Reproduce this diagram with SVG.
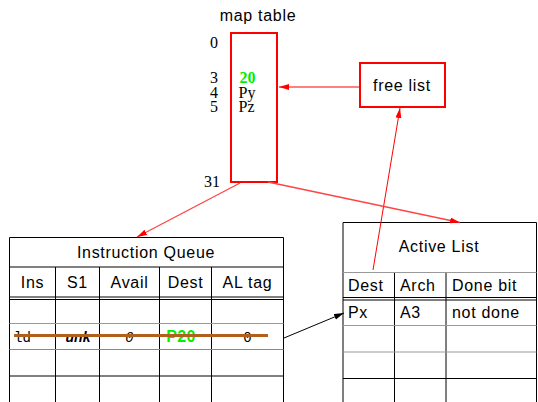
<svg xmlns="http://www.w3.org/2000/svg" width="538" height="402" viewBox="0 0 538 402">
<style>
  .sans { font-family: "Liberation Sans", Arial, sans-serif; font-size: 16px; letter-spacing: 0.7px; fill: #000; }
  .serif { font-family: "Liberation Serif", "Times New Roman", serif; font-size: 16px; fill: #000; }
  .mono { font-family: "Liberation Mono", "Courier New", monospace; font-size: 14px; fill: #000; }
  .redbox { fill: #fff; stroke: #ff0000; stroke-width: 2; }
  .grid { stroke: #000; stroke-width: 1; fill: none; }
  .gray { stroke: #999; stroke-width: 1.2; fill: none; }
  .red { stroke: #ff0000; stroke-width: 1; fill: none; }
  .redsoft { stroke: #ff4444; stroke-width: 1.3; fill: none; }
  .blk { stroke: #000; stroke-width: 1; fill: none; }
</style>
<defs>
  <marker id="ah-red" markerUnits="userSpaceOnUse" markerWidth="11" markerHeight="8" refX="10" refY="3" orient="auto">
    <path d="M0,0 L10,3 L0,6 z" fill="#ff0000"/>
  </marker>
  <marker id="ah-blk" markerUnits="userSpaceOnUse" markerWidth="11" markerHeight="8" refX="10" refY="3" orient="auto">
    <path d="M0,0 L10,3 L0,6 z" fill="#000"/>
  </marker>
</defs>
<rect width="538" height="402" fill="#fff"/>

<g id="map-table">
  <text class="sans" x="258" y="21" text-anchor="middle">map table</text>
  <rect class="redbox" x="231" y="33" width="46" height="149"/>
  <g class="serif" text-anchor="end">
    <text x="218" y="48">0</text>
    <text x="218" y="82.5">3</text>
    <text x="218" y="97.5">4</text>
    <text x="218" y="112">5</text>
    <text x="220" y="187">31</text>
  </g>
  <text class="serif" x="239.5" y="82.5" font-weight="bold" fill="#00ee00" style="fill:#00ee00">20</text>
  <text class="serif" x="238.5" y="97.5">Py</text>
  <text class="serif" x="238.5" y="112">Pz</text>
</g>

<g id="free-list">
  <rect class="redbox" x="360" y="63" width="85" height="44"/>
  <text class="sans" x="402" y="91" text-anchor="middle">free list</text>
</g>

<g id="instruction-queue">
  <path class="grid" d="M9.5,402 V237.5 H283.5 V402 M9.5,267 H283.5 M55.5,267 V402 M99.5,267 V402 M159.5,267 V402 M211.5,267 V402 M9.5,297 H283.5 M9.5,299.5 H283.5 M9.5,376 H283.5"/>
  <path class="gray" d="M9.5,323.5 H283.5"/>
  <path class="gray" d="M9.5,349.5 H283.5" style="stroke:#888"/>
  <text class="sans" x="146" y="257.5" text-anchor="middle">Instruction Queue</text>
  <g class="sans" text-anchor="middle">
    <text x="32.5" y="287.5">Ins</text>
    <text x="77.5" y="287.5">S1</text>
    <text x="129.5" y="287.5">Avail</text>
    <text x="185.5" y="287.5">Dest</text>
    <text x="247.5" y="287.5">AL tag</text>
  </g>
  <text class="mono" x="14" y="341.5">ld</text>
  <text class="sans" x="78" y="341.5" text-anchor="middle" font-style="italic" font-weight="bold" style="font-size:14px;letter-spacing:0">unk</text>
  <text class="mono" x="129.5" y="341.5" text-anchor="middle" font-style="italic">0</text>
  <text class="sans" x="181" y="342" text-anchor="middle" font-weight="bold" style="fill:#00ee00;letter-spacing:0.3px">P20</text>
  <text class="mono" x="247.5" y="341.5" text-anchor="middle">0</text>
  <line x1="14" y1="335.5" x2="268" y2="335.5" stroke="#b0601a" stroke-width="3"/>
</g>

<g id="active-list">
  <path class="grid" d="M343,402 V222.5 H536.5 V402 M394.5,272.5 V402 M446,272.5 V402 M343,297.5 H536.5 M343,300 H536.5 M343,378.5 H536.5"/>
  <path class="gray" d="M343,272.5 H536.5 M343,325.5 H536.5 M343,352 H536.5"/>
  <text class="sans" x="439" y="252" text-anchor="middle">Active List</text>
  <g class="sans">
    <text x="348" y="291">Dest</text>
    <text x="400" y="291">Arch</text>
    <text x="452" y="291">Done bit</text>
    <text x="348" y="317.5">Px</text>
    <text x="400" y="317.5">A3</text>
    <text x="452" y="317.5">not done</text>
  </g>
</g>

<g id="connectors">
  <line class="red" x1="359" y1="87" x2="279" y2="87" marker-end="url(#ah-red)"/>
  <line class="red" x1="373" y1="270" x2="400" y2="108" marker-end="url(#ah-red)"/>
  <line class="redsoft" x1="240" y1="183" x2="137" y2="237" marker-end="url(#ah-red)"/>
  <line class="redsoft" x1="268" y1="182" x2="460" y2="222.5" marker-end="url(#ah-red)"/>
  <line class="blk" x1="284" y1="338" x2="344" y2="313" marker-end="url(#ah-blk)"/>
</g>
</svg>
